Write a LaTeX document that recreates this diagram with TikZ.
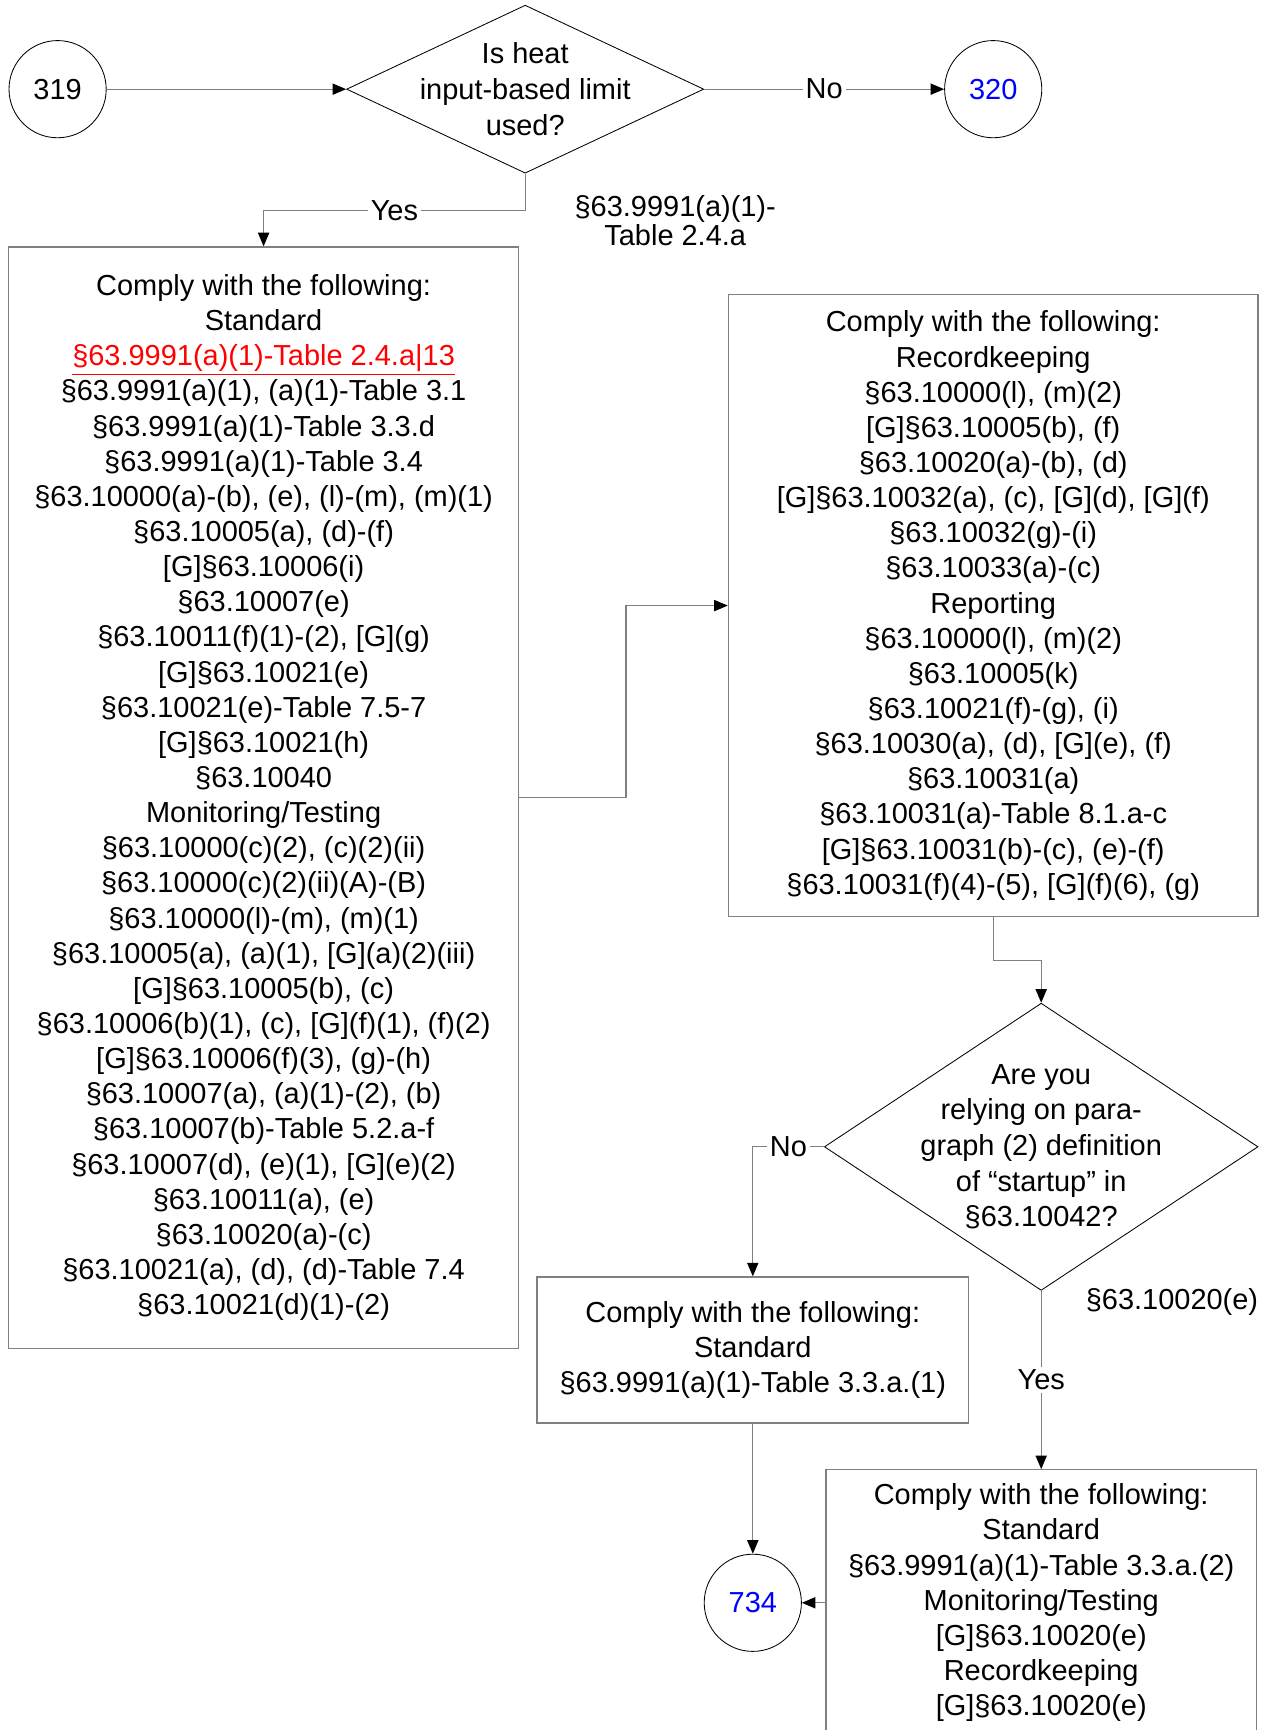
\documentclass[tikz,border=0pt]{standalone}
\usepackage{fontspec}
\setmainfont{Liberation Sans}
\usepackage{xcolor}
\usepackage{tikz}
\usetikzlibrary{arrows.meta,shapes.geometric}
\definecolor{linegray}{HTML}{808080}
\definecolor{pagelink}{HTML}{0000FF}
\definecolor{citered}{HTML}{FF0000}
\tikzset{
  page circle/.style={
    circle,
    draw=black,
    line width=0.6pt,
    minimum size=24.3mm,
    inner sep=0pt,
    font=\fontsize{20.6pt}{25pt}\selectfont
  },
  decision/.style={
    diamond,
    draw=black,
    line width=0.6pt,
    inner sep=0pt
  },
  question/.style={
    align=center,
    font=\fontsize{20.6pt}{25.3pt}\selectfont
  },
  rule box/.style={
    rectangle,
    draw=linegray,
    line width=0.9pt,
    inner sep=0pt,
    align=center,
    font=\fontsize{20.6pt}{25pt}\selectfont
  },
  connection/.style={
    draw=linegray,
    line width=0.9pt,
    -{Triangle[length=3.4mm,width=2.8mm,color=black]}
  },
  branch label/.style={
    fill=white,
    inner sep=2pt,
    font=\fontsize{20.6pt}{25pt}\selectfont
  },
  reference/.style={
    align=center,
    font=\fontsize{20.6pt}{20.6pt}\selectfont
  }
}

\begin{document}
\begin{tikzpicture}[x=1cm,y=1cm]
  \useasboundingbox (0,0) rectangle (31.55,43.25);

  \node[page circle] (C-319) at (1.44,41.02) {319};
  \node[decision,minimum width=8.93cm,minimum height=4.20cm,
    label={[question]center:{Is heat\\input-based limit\\used?}}]
    (D-1) at (13.13,41.02) {};
  \node[page circle,text=pagelink] (C-320) at (24.83,41.02) {320};

  \node[rule box,minimum width=12.75cm,minimum height=27.53cm] (B-1) at (6.59,23.31)
    {Comply with the following:\\
     Standard\\
     {\color{citered}\underline{§63.9991(a)(1)-Table 2.4.a|13}}\\
     §63.9991(a)(1), (a)(1)-Table 3.1\\
     §63.9991(a)(1)-Table 3.3.d\\
     §63.9991(a)(1)-Table 3.4\\
     §63.10000(a)-(b), (e), (l)-(m), (m)(1)\\
     §63.10005(a), (d)-(f)\\
     {}[G]§63.10006(i)\\
     §63.10007(e)\\
     §63.10011(f)(1)-(2), [G](g)\\
     {}[G]§63.10021(e)\\
     §63.10021(e)-Table 7.5-7\\
     {}[G]§63.10021(h)\\
     §63.10040\\
     Monitoring/Testing\\
     §63.10000(c)(2), (c)(2)(ii)\\
     §63.10000(c)(2)(ii)(A)-(B)\\
     §63.10000(l)-(m), (m)(1)\\
     §63.10005(a), (a)(1), [G](a)(2)(iii)\\
     {}[G]§63.10005(b), (c)\\
     §63.10006(b)(1), (c), [G](f)(1), (f)(2)\\
     {}[G]§63.10006(f)(3), (g)-(h)\\
     §63.10007(a), (a)(1)-(2), (b)\\
     §63.10007(b)-Table 5.2.a-f\\
     §63.10007(d), (e)(1), [G](e)(2)\\
     §63.10011(a), (e)\\
     §63.10020(a)-(c)\\
     §63.10021(a), (d), (d)-Table 7.4\\
     §63.10021(d)(1)-(2)};

  \node[rule box,minimum width=13.24cm,minimum height=15.55cm] (B-2) at (24.83,28.11)
    {Comply with the following:\\
     Recordkeeping\\
     §63.10000(l), (m)(2)\\
     {}[G]§63.10005(b), (f)\\
     §63.10020(a)-(b), (d)\\
     {}[G]§63.10032(a), (c), [G](d), [G](f)\\
     §63.10032(g)-(i)\\
     §63.10033(a)-(c)\\
     Reporting\\
     §63.10000(l), (m)(2)\\
     §63.10005(k)\\
     §63.10021(f)-(g), (i)\\
     §63.10030(a), (d), [G](e), (f)\\
     §63.10031(a)\\
     §63.10031(a)-Table 8.1.a-c\\
     {}[G]§63.10031(b)-(c), (e)-(f)\\
     §63.10031(f)(4)-(5), [G](f)(6), (g)};

  \node[decision,minimum width=10.84cm,minimum height=7.18cm,
    label={[question]center:{Are you\\relying on para-\\graph (2) definition\\of “startup” in\\§63.10042?}}]
    (D-2) at (26.03,14.58) {};

  \node[rule box,minimum width=10.79cm,minimum height=3.65cm] (B-3) at (18.82,9.50)
    {Comply with the following:\\
     Standard\\
     §63.9991(a)(1)-Table 3.3.a.(1)};

  \node[rule box,minimum width=10.76cm,minimum height=6.65cm] (B-4) at (26.03,3.18)
    {Comply with the following:\\
     Standard\\
     §63.9991(a)(1)-Table 3.3.a.(2)\\
     Monitoring/Testing\\
     {}[G]§63.10020(e)\\
     Recordkeeping\\
     {}[G]§63.10020(e)};

  \node[page circle,text=pagelink] (C-734) at (18.82,3.18) {734};

  \node[reference] (R-1) at (16.88,37.73) {§63.9991(a)(1)-\\Table 2.4.a};
  \node[reference] (R-2) at (29.30,10.70) {§63.10020(e)};

  \draw[connection] (C-319) -- (D-1);
  \draw[connection] (D-1) -- node[branch label] {No} (C-320);
  \draw[connection] (D-1.south) -- ++(0,-0.92) -| node[branch label,pos=0.25] {Yes} (B-1.north);
  \draw[connection] (B-1.east) -- ++(2.67,0) |- (B-2.west);
  \draw[connection] (B-2.south) -- ++(0,-1.08) -| (D-2.north);
  \draw[connection] (D-2.west) -| node[branch label,pos=0.25] {No} (B-3.north);
  \draw[connection] (D-2.south) -- node[branch label] {Yes} (B-4.north);
  \draw[connection] (B-3.south) -- (C-734.north);
  \draw[connection] (B-4.west) -- (C-734.east);
\end{tikzpicture}
\end{document}
